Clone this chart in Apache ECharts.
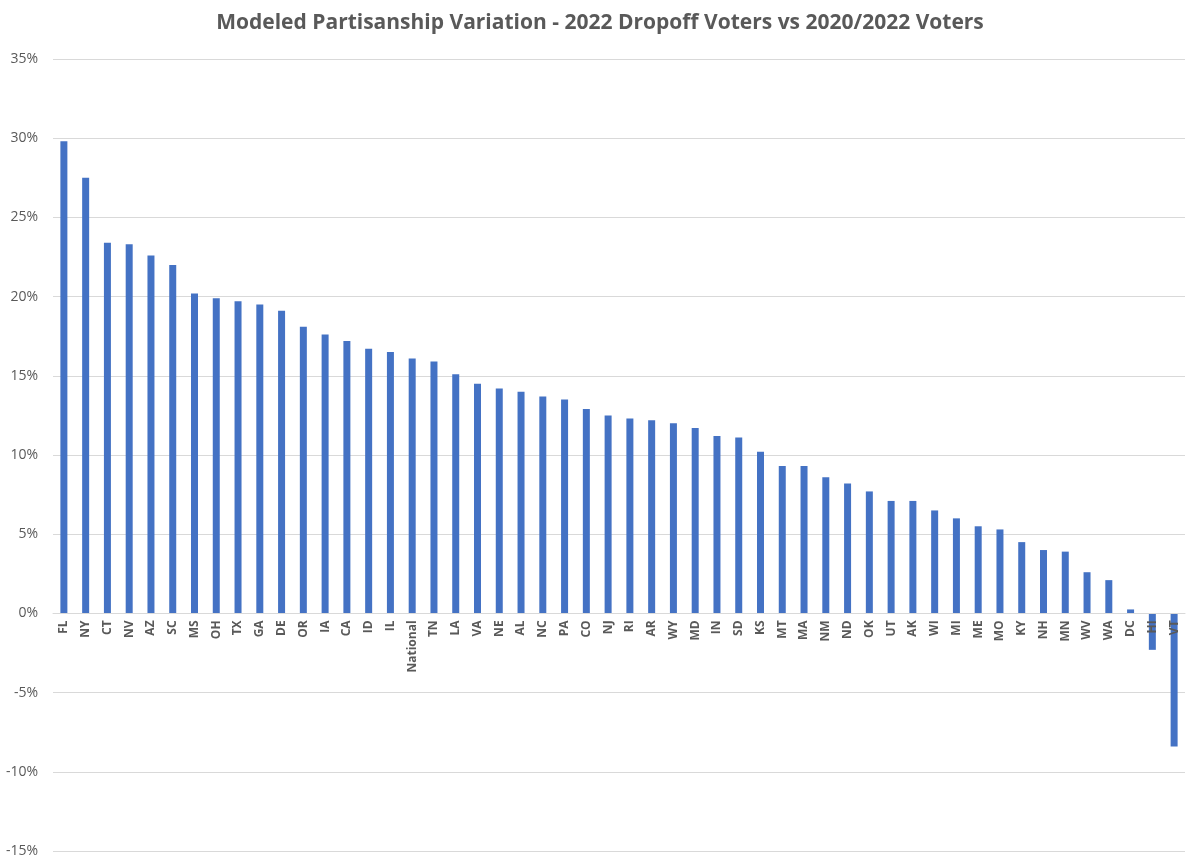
<!DOCTYPE html>
<html>
<head>
<meta charset="utf-8">
<script src="https://cdn.jsdelivr.net/npm/echarts@6/dist/echarts.min.js"></script>
<style>
html,body{margin:0;padding:0;background:#fff;}
#chart{width:1200px;height:867px;}
</style>
</head>
<body>
<div id="chart"></div>
<script>
const categories = ["FL","NY","CT","NV","AZ","SC","MS","OH","TX","GA","DE","OR","IA","CA","ID","IL","National","TN","LA","VA","NE","AL","NC","PA","CO","NJ","RI","AR","WY","MD","IN","SD","KS","MT","MA","NM","ND","OK","UT","AK","WI","MI","ME","MO","KY","NH","MN","WV","WA","DC","HI","VT"];
const values = [29.8,27.5,23.4,23.3,22.6,22.0,20.2,19.9,19.7,19.5,19.1,18.1,17.6,17.2,16.7,16.5,16.1,15.9,15.1,14.5,14.2,14.0,13.7,13.5,12.9,12.5,12.3,12.2,12.0,11.7,11.2,11.1,10.2,9.3,9.3,8.6,8.2,7.7,7.1,7.1,6.5,6.0,5.5,5.3,4.5,4.0,3.9,2.6,2.1,0.25,-2.3,-8.4];
const yTicks = {min:-15, max:35, interval:5};
const titleText = "Modeled Partisanship Variation - 2022 Dropoff Voters vs 2020/2022 Voters";

const gridTop = 59, gridBottom = 16, chartH = 867;
const plotH = chartH - gridTop - gridBottom;
const zeroOffset = -plotH * (0 - yTicks.min) / (yTicks.max - yTicks.min);

const chart = echarts.init(document.getElementById('chart'));
chart.setOption({
  animation:false,
  title:{
    text:titleText, left:'center', top:8,
    textStyle:{fontFamily:'Open Sans', fontWeight:'bold', fontSize:21, color:'#595959'}
  },
  grid:{left:53, right:15, top:gridTop, bottom:gridBottom, containLabel:false, outerBoundsMode:'none'},
  xAxis:{
    type:'category', data:categories, z:5, position:'bottom', offset:zeroOffset,
    axisLine:{onZero:false, lineStyle:{color:'#d9d9d9', width:1}},
    axisTick:{show:false},
    axisLabel:{rotate:90, interval:0, margin:7, fontFamily:'Open Sans', fontWeight:'bold', fontSize:12, color:'#595959'}
  },
  yAxis:{
    type:'value', min:yTicks.min, max:yTicks.max, interval:yTicks.interval,
    axisLine:{show:false}, axisTick:{show:false},
    splitLine:{lineStyle:{color:'#d9d9d9', width:1}},
    axisLabel:{formatter:'{value}%', margin:15, fontFamily:'Open Sans', fontSize:14, color:'#595959'}
  },
  series:[{
    type:'bar', data:values, barWidth:7,
    itemStyle:{color:'#4472C4'}
  }]
});
</script>
</body>
</html>
